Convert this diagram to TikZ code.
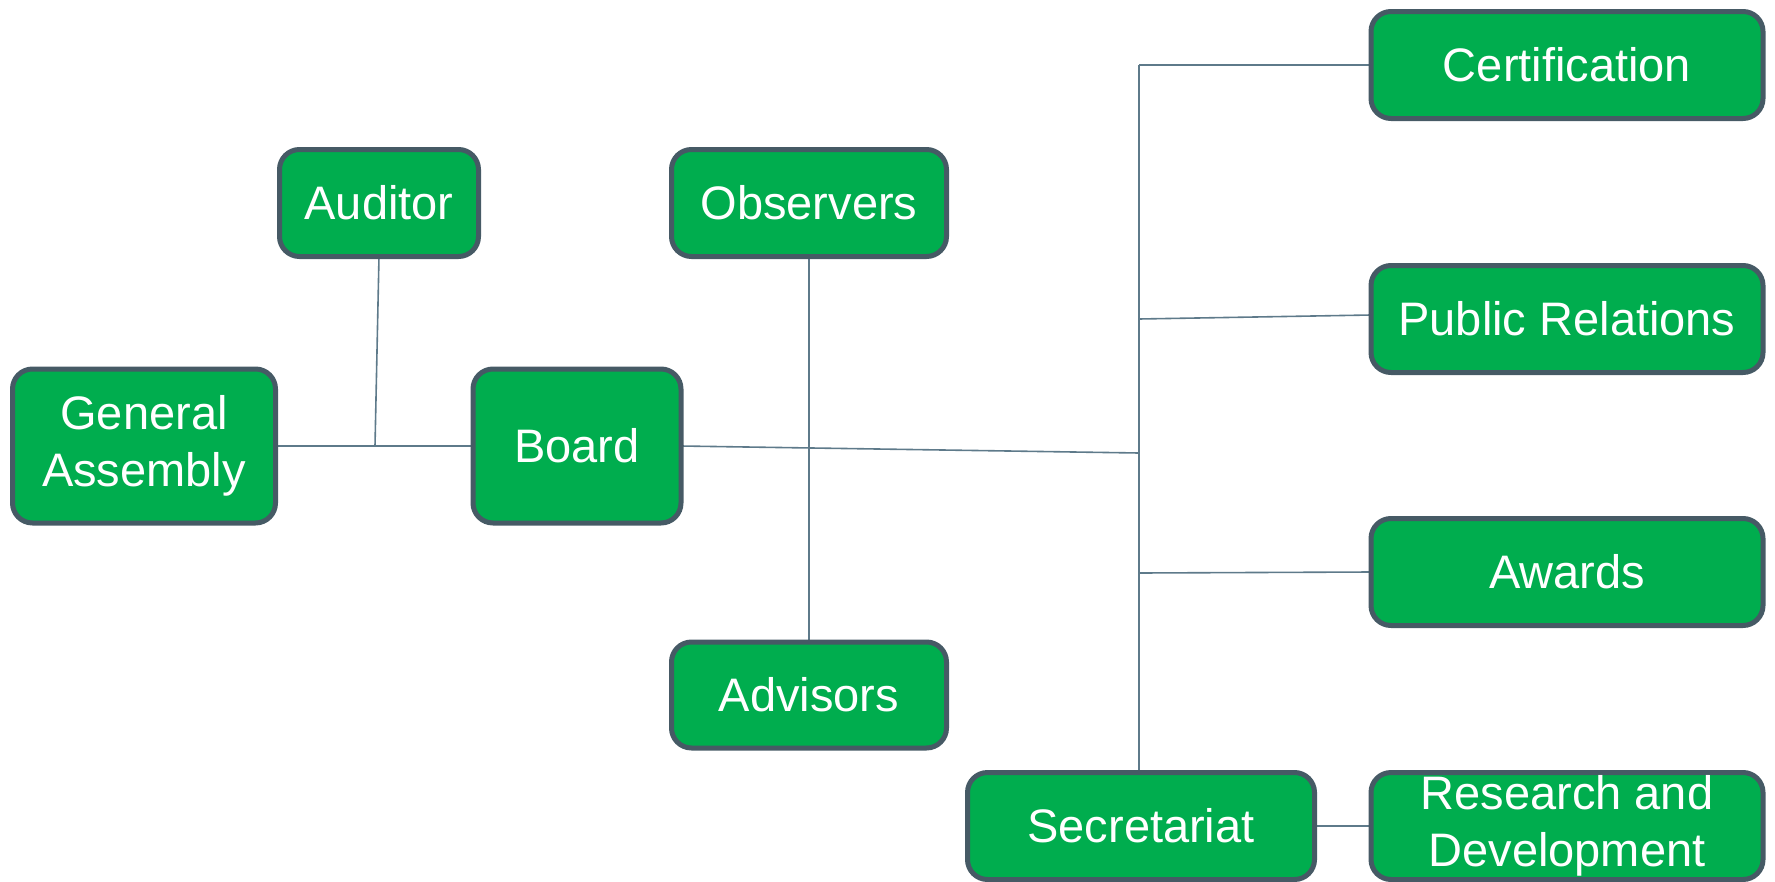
\documentclass[tikz,border=0pt]{standalone}
\usepackage{fontspec}
\setmainfont{Liberation Sans}
\definecolor{boxfill}{HTML}{00AD4E}
\definecolor{boxline}{HTML}{465A65}
\definecolor{linkcol}{HTML}{5E7A8A}
\pgfdeclarelayer{bg}
\pgfsetlayers{bg,main}
\begin{document}
\begin{tikzpicture}[x=1pt,y=-1pt,
  unit/.style={draw=boxline, line width=5pt, fill=boxfill, rounded corners=20pt,
    text=white, font=\fontsize{47}{57}\selectfont, align=center,
    inner sep=0pt, outer sep=0pt},
  link/.style={draw=linkcol, line width=1.6pt}]
\useasboundingbox (0,0) rectangle (1775,881);
\node[unit, minimum width=263pt, minimum height=154pt] (ga) at (144,446) {General\\Assembly};
\node[unit, minimum width=199pt, minimum height=107pt] (aud) at (379,203) {Auditor};
\node[unit, minimum width=208pt, minimum height=154pt] (board) at (577,446) {Board};
\node[unit, minimum width=275pt, minimum height=107pt] (obs) at (809,203) {Observers};
\node[unit, minimum width=275pt, minimum height=106pt] (adv) at (809,695) {Advisors};
\node[unit, minimum width=392pt, minimum height=107pt] (cert) at (1567,65) {Certification};
\node[unit, minimum width=392pt, minimum height=107pt] (pr) at (1567,319) {Public Relations};
\node[unit, minimum width=392pt, minimum height=107pt] (aw) at (1567,572) {Awards};
\node[unit, minimum width=347pt, minimum height=107pt] (secr) at (1141,826) {Secretariat};
\node[unit, minimum width=392pt, minimum height=107pt] (rd) at (1567,826) {Research and\\Development};
\coordinate (j1) at (375,446);
\coordinate (tmid) at (1139,453);
\coordinate (ttop) at (1139,65);
\coordinate (tpr) at (1139,319);
\coordinate (taw) at (1139,573);
\begin{pgfonlayer}{bg}
\draw[link] (ga.east) -- (board.west);
\draw[link] (aud.south) -- (j1);
\draw[link] (obs.south) -- (adv.north);
\draw[link] (board.east) -- (tmid);
\draw[link] (ttop) -- (ttop |- secr.north);
\draw[link] (ttop) -- (cert.west);
\draw[link] (tpr) -- ([yshift=4pt]pr.west);
\draw[link] (taw) -- (aw.west);
\draw[link] (secr.east) -- (rd.west);
\end{pgfonlayer}
\end{tikzpicture}
\end{document}
